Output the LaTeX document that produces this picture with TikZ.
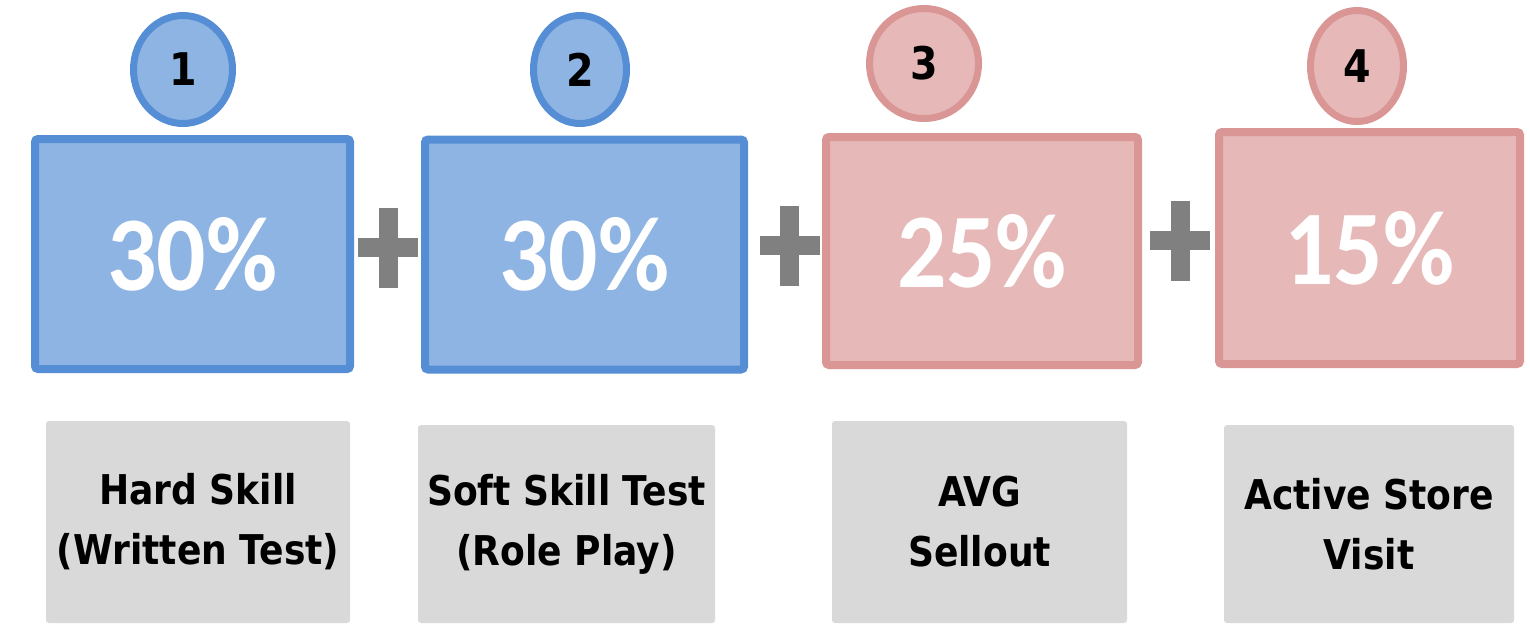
\documentclass[tikz,border=0pt]{standalone}
\usepackage{fontspec}
\usepackage{tikz}
\usetikzlibrary{shapes.geometric}

\newfontfamily\pctfont{Carlito}[FakeStretch=0.92]
\newfontfamily\labelfont{DejaVu Sans}[FakeStretch=0.88]

\definecolor{blueline}{HTML}{558ED5}
\definecolor{bluefill}{HTML}{8EB4E3}
\definecolor{redline}{HTML}{D99694}
\definecolor{redfill}{HTML}{E6B9B8}
\definecolor{tagfill}{HTML}{D9D9D9}
\definecolor{plusgray}{HTML}{808080}

\begin{document}
\begin{tikzpicture}[x=0.5pt, y=-0.5pt,
  pctbox/.style={draw, line width=4pt, rounded corners=1.5pt, text=white,
    font=\pctfont\bfseries\fontsize{53}{60}\selectfont},
  bluebox/.style={pctbox, draw=blueline, fill=bluefill},
  redbox/.style={pctbox, draw=redline, fill=redfill},
  numdot/.style={ellipse, draw, line width=3.5pt, inner sep=0pt,
    font=\labelfont\bfseries\fontsize{22.5}{24}\selectfont},
  bluedot/.style={numdot, draw=blueline, fill=bluefill},
  reddot/.style={numdot, draw=redline, fill=redfill},
  tagbox/.style={fill=tagfill, rounded corners=1.5pt, align=center, inner sep=0pt,
    font=\labelfont\bfseries\fontsize{20.5}{30}\selectfont},
  plussign/.style={draw=plusgray, line width=9.5pt}]

  \useasboundingbox (0,0) rectangle (1530,623);

  % weight boxes
  \node[bluebox, minimum width=157.5pt, minimum height=115pt] (hard) at (192.5,254) {30\%};
  \node[bluebox, minimum width=159.5pt, minimum height=115pt] (soft) at (584.5,254.5) {30\%};
  \node[redbox, minimum width=156pt, minimum height=114pt] (sell) at (982,251) {25\%};
  \node[redbox, minimum width=150.5pt, minimum height=116pt] (visit) at (1369.5,248) {15\%};

  % step numbers
  \node[bluedot, minimum width=49.5pt, minimum height=54pt] (n1) at (183,69.5) {1};
  \node[bluedot, minimum width=46.5pt, minimum height=54pt] (n2) at (580,69.5) {2};
  \node[reddot, minimum width=54.5pt, minimum height=55pt] (n3) at (924,63.5) {3};
  \node[reddot, minimum width=46.5pt, minimum height=55.5pt] (n4) at (1357,66) {4};

  % captions
  \node[tagbox, minimum width=152pt, minimum height=101pt] (hardtag) at (198,522) {Hard Skill\\(Written Test)};
  \node[tagbox, minimum width=148.5pt, minimum height=99pt] (softtag) at (566.5,524) {Soft Skill Test\\(Role Play)};
  \node[tagbox, minimum width=147.5pt, minimum height=101pt] (selltag) at (979.5,522) {AVG\\Sellout};
  \node[tagbox, minimum width=145pt, minimum height=99pt] (visittag) at (1369,524) {Active Store\\Visit};

  % plus signs
  \foreach \px/\py in {388/247.5, 789.5/245.5, 1180/240.5}
    \draw[plussign] (\px-30,\py) -- (\px+30,\py) (\px,\py-40) -- (\px,\py+40);

\end{tikzpicture}
\end{document}
